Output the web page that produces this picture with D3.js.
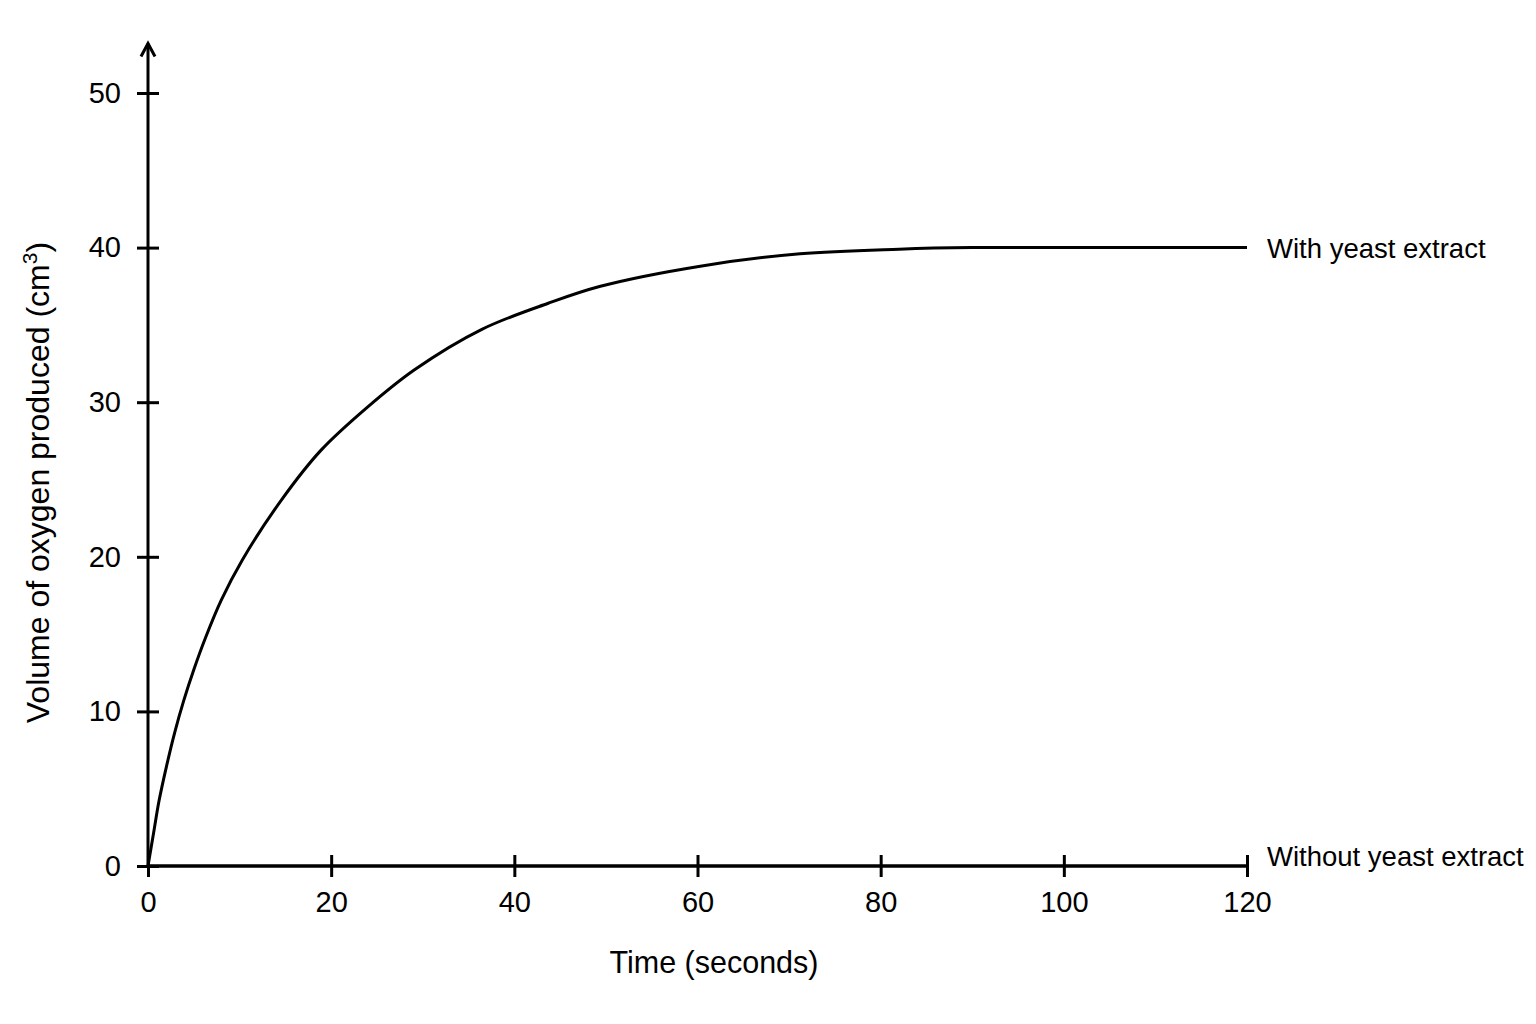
<!DOCTYPE html>
<html>
<head>
<meta charset="utf-8">
<script src="https://cdn.jsdelivr.net/npm/d3@7"></script>
<style>
    body { margin: 0; background: #fff; }
    svg { display: block; font-family: "Liberation Sans", Arial, sans-serif; }
    .axis text { font-size: 29px; fill: #000; }
    .axis line, .axis path { stroke: #000; stroke-width: 3; }
</style>
</head>
<body>
<svg id="chart" width="1536" height="1024"></svg>
<script>
// time (s) and volume (cm3)
const tempo = [0, 0.6, 1.2, 2, 2.9, 3.9, 5, 6.3, 8, 10.3, 14.6, 18.9, 24, 29.1, 36.4, 43.7, 49.4, 60.3, 71.2, 82, 90, 100, 110, 120];
const comLevedura = [0, 2.1, 4.2, 6.4, 8.6, 10.7, 12.7, 14.8, 17.2, 19.8, 23.7, 26.9, 29.7, 32.1, 34.7, 36.4, 37.5, 38.8, 39.6, 39.9, 40, 40, 40, 40];
const semLevedura = [0, 0, 0, 0, 0, 0, 0, 0, 0, 0, 0, 0, 0, 0, 0, 0, 0, 0, 0, 0, 0, 0, 0, 0];
const xTicks = [0, 20, 40, 60, 80, 100, 120];
const yTicks = [0, 10, 20, 30, 40, 50];
const rotulos = ['With yeast extract', 'Without yeast extract'];

const svg = d3.select('#chart');

const margin = { top: 93, left: 148 };
const width = 1247 - 148;
const height = 866 - 93;

const chart = svg.append('g')
    .attr('transform', `translate(${margin.left}, ${margin.top})`);

const xScale = d3.scaleLinear()
    .range([0, width])
    .domain([0, 120]);

const yScale = d3.scaleLinear()
    .range([height, 0])
    .domain([0, 50]);

const tk = 11;

/* x axis */
const xAxis = chart.append('g')
    .attr('class', 'axis')
    .attr('transform', `translate(0, ${height})`)
    .call(d3.axisBottom(xScale).tickValues(xTicks).tickSize(tk).tickSizeOuter(0).tickPadding(14));
xAxis.selectAll('.tick line').attr('y1', -tk);
xAxis.select('.domain').remove();
xAxis.append('line')
    .attr('x1', 0).attr('x2', width)
    .attr('stroke', '#000').attr('stroke-width', 3);

/* y axis */
const yAxis = chart.append('g')
    .attr('class', 'axis')
    .call(d3.axisLeft(yScale).tickValues(yTicks).tickSize(tk).tickSizeOuter(0).tickPadding(16));
yAxis.selectAll('.tick line').attr('x1', tk);
yAxis.select('.domain').remove();
const yTop = yScale(53.2);
yAxis.append('line')
    .attr('y1', height).attr('y2', yTop)
    .attr('stroke', '#000').attr('stroke-width', 3);
yAxis.append('path')
    .attr('d', `M-7,${yTop + 13} L0,${yTop} L7,${yTop + 13}`)
    .attr('fill', 'none').attr('stroke', '#000').attr('stroke-width', 2.5);

/* series */
const linha = d3.line()
    .x((d) => xScale(d[0]))
    .y((d) => yScale(d[1]))
    .curve(d3.curveCatmullRom.alpha(0.5));

const deslocamento = [1, -10];

[comLevedura, semLevedura].forEach(function (serie, i) {
    const pts = tempo.map((t, j) => [t, serie[j]]);
    chart.append('path')
        .datum(pts)
        .attr('d', linha)
        .attr('fill', 'none')
        .attr('stroke', '#000')
        .attr('stroke-width', 3);

    chart.append('text')
        .attr('x', xScale(120) + 20)
        .attr('y', yScale(serie[serie.length - 1]) + deslocamento[i])
        .attr('dy', '0.35em')
        .attr('font-size', '27.5px')
        .text(rotulos[i]);
});

/* axis titles */
svg.append('text')
    .attr('x', margin.left + xScale(61.8))
    .attr('y', 973)
    .attr('text-anchor', 'middle')
    .attr('font-size', '30.5px')
    .text('Time (seconds)');

const yTitle = svg.append('text')
    .attr('transform', `translate(49, ${margin.top + yScale(24.8)}) rotate(-90)`)
    .attr('text-anchor', 'middle')
    .attr('font-size', '32px');
yTitle.append('tspan').text('Volume of oxygen produced (cm');
yTitle.append('tspan').attr('font-size', '21px').attr('dy', '-12').text('3');
yTitle.append('tspan').attr('dy', '12').text(')');
</script>
</body>
</html>
